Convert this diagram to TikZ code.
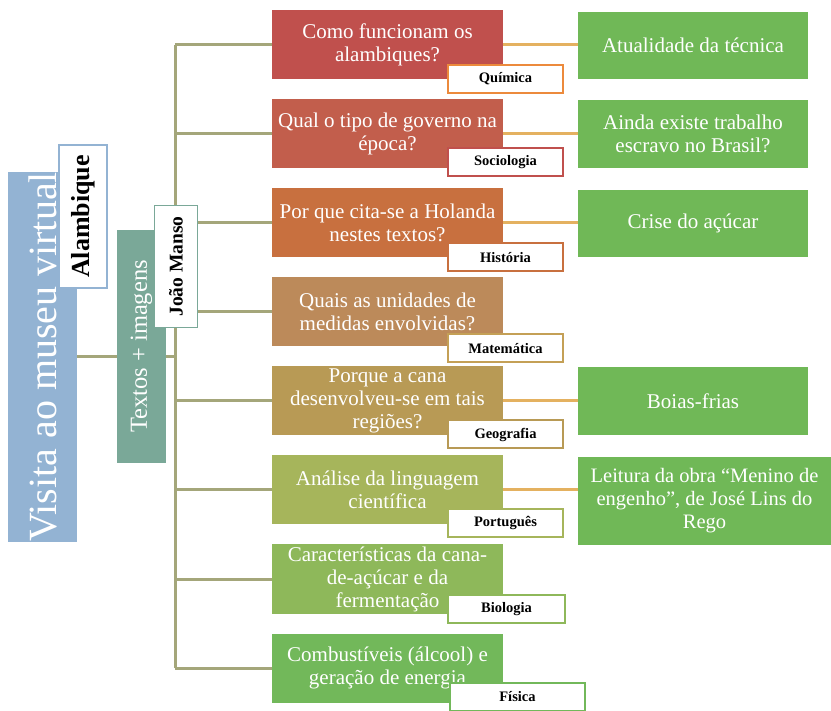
\documentclass[tikz,border=0pt]{standalone}
\usepackage{fontspec}
\setmainfont{Liberation Serif}
\pgfdeclarelayer{background}
\pgfsetlayers{background,main}
\definecolor{blueC}{HTML}{93B3D3}
\definecolor{tealC}{HTML}{7AA898}
\definecolor{treeC}{HTML}{A4A67A}
\definecolor{linkC}{HTML}{E4B160}
\definecolor{qA}{HTML}{C0504D}
\definecolor{qB}{HTML}{C25E4C}
\definecolor{qC}{HTML}{C8703F}
\definecolor{qD}{HTML}{BC8A5A}
\definecolor{qE}{HTML}{B89A55}
\definecolor{qF}{HTML}{A6B55B}
\definecolor{qG}{HTML}{8EB85A}
\definecolor{qH}{HTML}{72B85A}
\definecolor{lA}{HTML}{EC8A3C}
\definecolor{lD}{HTML}{C4A056}
\definecolor{ansC}{HTML}{70B857}
\begin{document}
\begin{tikzpicture}[x=1pt,y=-1pt,
  tree/.style={draw=treeC, line width=3pt},
  link/.style={draw=linkC, line width=3pt},
  qbox/.style={fill=#1, text=white, minimum width=231, minimum height=69, align=center, inner sep=1pt, font=\fontsize{21}{23}\selectfont},
  lbl/.style={draw=#1, fill=white, line width=2pt, minimum width=115, minimum height=28, inner sep=1pt, font=\bfseries\fontsize{14.5}{16}\selectfont},
  abox/.style={fill=ansC, text=white, minimum width=230, minimum height=67, align=center, inner sep=1pt, font=\fontsize{21}{23}\selectfont}
]
\useasboundingbox (0,0) rectangle (831,711);

% left column
\node[rotate=90, fill=blueC, text=white, minimum width=370, minimum height=69, inner sep=0pt, font=\fontsize{40}{42}\selectfont] (visita) at (42.5,357) {Visita ao museu virtual};
\node[rotate=90, fill=white, draw=blueC, line width=1.5pt, minimum width=143, minimum height=48, inner sep=0pt, font=\bfseries\fontsize{26}{28}\selectfont] (alambique) at (83,216.5) {Alambique};
\node[rotate=90, fill=tealC, text=white, minimum width=233, minimum height=49, inner sep=0pt, font=\fontsize{24.5}{26}\selectfont] (textos) at (141.5,346.5) {Textos + imagens};
\node[rotate=90, fill=white, draw=tealC, line width=1.5pt, minimum width=122, minimum height=43, inner sep=0pt, font=\bfseries\fontsize{19.5}{21}\selectfont] (joao) at (176,266.5) {João Manso};

% questions
\node[qbox=qA] (q1) at (387.5,45) {Como funcionam os\\alambiques?};
\node[qbox=qB] (q2) at (387.5,134) {Qual o tipo de governo na\\época?};
\node[qbox=qC] (q3) at (387.5,223) {Por que cita-se a Holanda\\nestes textos?};
\node[qbox=qD] (q4) at (387.5,312) {Quais as unidades de\\medidas envolvidas?};
\node[qbox=qE] (q5) at (387.5,401) {Porque a cana\\desenvolveu-se em tais\\regiões?};
\node[qbox=qF] (q6) at (387.5,490) {Análise da linguagem\\científica};
\node[qbox=qG] (q7) at (387.5,579) {Características da cana-\\de-açúcar e da\\fermentação};
\node[qbox=qH] (q8) at (387.5,668) {Combustíveis (álcool) e\\geração de energia};

% labels
\node[lbl=lA] (l1) at (505.5,79) {Química};
\node[lbl=qA] (l2) at (505.5,162.5) {Sociologia};
\node[lbl=qC] (l3) at (505.5,257.5) {História};
\node[lbl=lD] (l4) at (505.5,348.5) {Matemática};
\node[lbl=qE] (l5) at (505.5,434.5) {Geografia};
\node[lbl=qF] (l6) at (505.5,523) {Português};
\node[lbl=qG, minimum width=117] (l7) at (506.5,609) {Biologia};
\node[lbl=qH, minimum width=135] (l8) at (517.5,696.5) {Física};

% answers
\node[abox] (a1) at (693,45.5) {Atualidade da técnica};
\node[abox, minimum height=68] (a2) at (693,134) {Ainda existe trabalho\\escravo no Brasil?};
\node[abox] (a3) at (693,223.5) {Crise do açúcar};
\node[abox, minimum height=68] (a5) at (693,401) {Boias-frias};
\node[abox, minimum width=253, minimum height=88, font=\fontsize{20.5}{23}\selectfont] (a6) at (704.5,501) {Leitura da obra “Menino de\\engenho”, de José Lins do\\Rego};

\coordinate (trunk) at (175,357);
\begin{pgfonlayer}{background}
\draw[tree] (visita.south) -- (visita.south -| textos.north);
\draw[tree] (textos.south |- trunk) -- (trunk);
\draw[tree] (trunk |- q1.west) -- (trunk |- q8.west);
\foreach \i in {1,...,8} {\draw[tree] (trunk |- q\i.west) -- (q\i.west);}
\foreach \i in {1,2,3,5} {\draw[link] (q\i.east) -- (q\i.east -| a\i.west);}
\draw[link] (q6.east) -- (q6.east -| a6.west);
\end{pgfonlayer}
\end{tikzpicture}
\end{document}
